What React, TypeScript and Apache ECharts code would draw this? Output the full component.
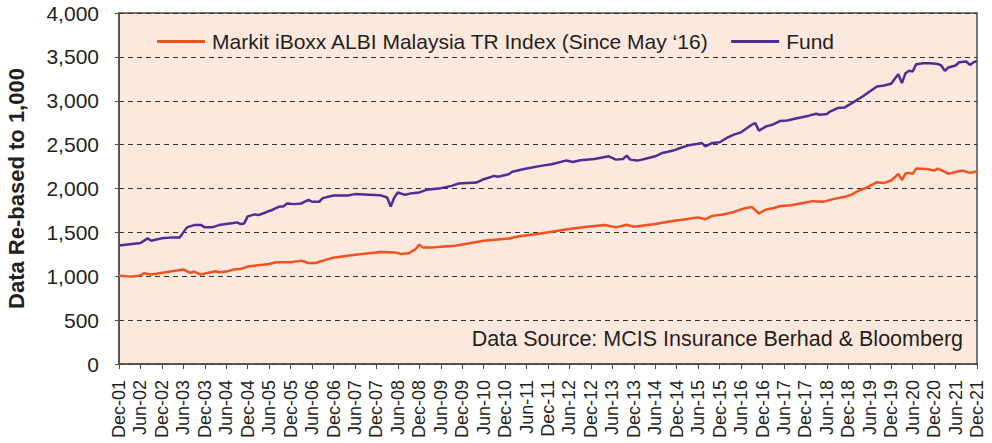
import React, { useEffect, useRef } from "react";
import * as echarts from "echarts";

// Month index counted from Dec-01 (0) to Dec-21 (240)
const fundMonths = [0, 3, 6, 8, 9, 12, 15, 17, 18, 19, 21, 23, 24, 26, 28, 30, 32, 33, 34, 35, 36, 38, 39, 41, 43, 45, 46, 47, 49, 51, 53, 54, 56, 57, 60, 64, 66, 70, 73, 75, 76, 77, 78, 80, 82, 84, 86, 90, 93, 95, 100, 102, 105, 106, 109, 110, 114, 118, 121, 125, 127, 129, 133, 137, 139, 141, 142, 143, 145, 147, 150, 152, 155, 157, 159, 162, 163, 164, 166, 168, 170, 172, 174, 177, 178, 179, 181, 183, 185, 187, 189, 191, 193, 195, 196, 198, 199, 201, 203, 205, 208, 210, 212, 214, 216, 217, 218, 219, 220, 221, 222, 223, 225, 227, 229, 230, 231, 232, 234, 235, 237, 238, 239, 240];
const fundValues = [1350, 1365, 1379, 1432, 1405, 1432, 1443, 1443, 1500, 1557, 1583, 1583, 1557, 1557, 1583, 1595, 1606, 1614, 1595, 1602, 1682, 1705, 1697, 1727, 1758, 1796, 1796, 1830, 1822, 1830, 1871, 1849, 1849, 1890, 1921, 1921, 1936, 1930, 1924, 1898, 1795, 1898, 1955, 1928, 1947, 1955, 1985, 2004, 2030, 2057, 2068, 2106, 2144, 2133, 2163, 2190, 2227, 2258, 2277, 2318, 2303, 2322, 2337, 2367, 2329, 2337, 2375, 2329, 2318, 2337, 2367, 2405, 2432, 2462, 2489, 2511, 2519, 2481, 2519, 2527, 2576, 2614, 2640, 2727, 2745, 2659, 2708, 2730, 2770, 2775, 2795, 2811, 2830, 2852, 2841, 2848, 2879, 2917, 2924, 2973, 3049, 3106, 3163, 3174, 3193, 3250, 3303, 3201, 3314, 3341, 3333, 3417, 3428, 3428, 3420, 3402, 3341, 3379, 3402, 3439, 3447, 3409, 3436, 3455];

const indexMonths = [0, 2, 4, 6, 7, 9, 13, 16, 18, 20, 21, 23, 25, 27, 28, 30, 32, 34, 36, 39, 42, 44, 48, 51, 53, 55, 58, 60, 65, 73, 77, 79, 81, 83, 84, 85, 88, 90, 94, 98, 102, 106, 109, 112, 117, 121, 126, 131, 136, 139, 142, 144, 150, 154, 159, 162, 164, 166, 169, 172, 175, 177, 179, 181, 183, 185, 188, 191, 194, 197, 200, 203, 205, 207, 209, 212, 214, 216, 218, 219, 220, 221, 222, 223, 226, 228, 229, 231, 232, 234, 236, 238, 240];
const indexValues = [1007, 1000, 996, 1010, 1034, 1019, 1045, 1064, 1076, 1038, 1053, 1019, 1041, 1057, 1045, 1053, 1076, 1083, 1110, 1125, 1140, 1159, 1159, 1178, 1151, 1151, 1189, 1212, 1240, 1276, 1272, 1253, 1261, 1310, 1360, 1329, 1329, 1337, 1348, 1375, 1405, 1420, 1430, 1455, 1481, 1507, 1538, 1564, 1583, 1557, 1587, 1564, 1595, 1625, 1652, 1671, 1650, 1688, 1704, 1733, 1775, 1790, 1715, 1761, 1775, 1800, 1810, 1833, 1856, 1848, 1882, 1905, 1932, 1977, 2008, 2072, 2064, 2091, 2167, 2095, 2170, 2178, 2167, 2227, 2223, 2204, 2227, 2189, 2167, 2189, 2204, 2178, 2197];

const xTickLabels = [
  "Dec-01", "Jun-02", "Dec-02", "Jun-03", "Dec-03", "Jun-04", "Dec-04", "Jun-05", "Dec-05", "Jun-06",
  "Dec-06", "Jun-07", "Dec-07", "Jun-08", "Dec-08", "Jun-09", "Dec-09", "Jun-10", "Dec-10", "Jun-11",
  "Dec-11", "Jun-12", "Dec-12", "Jun-13", "Dec-13", "Jun-14", "Dec-14", "Jun-15", "Dec-15", "Jun-16",
  "Dec-16", "Jun-17", "Dec-17", "Jun-18", "Dec-18", "Jun-19", "Dec-19", "Jun-20", "Dec-20", "Jun-21",
  "Dec-21",
];

const indexName = "Markit iBoxx ALBI Malaysia TR Index (Since May \u201816)";
const fundName = "Fund";
const sourceText = "Data Source: MCIS Insurance Berhad & Bloomberg";
const yAxisTitle = "Data Re-based to 1,000";

const FONT = "'Liberation Sans', Arial, Helvetica, sans-serif";

export default function App() {
  const ref = useRef<HTMLDivElement>(null);

  useEffect(() => {
    if (!ref.current) return;
    const chart = echarts.init(ref.current, null, { renderer: "svg" });
    const pair = (xs: number[], ys: number[]) => xs.map((x, i) => [x, ys[i]]);

    chart.setOption({
      animation: false,
      backgroundColor: "#ffffff",
      textStyle: { fontFamily: FONT },
      grid: {
        left: 119,
        top: 13,
        right: 15,
        bottom: 79,
        outerBoundsMode: "none",
        containLabel: false,
        show: true,
        backgroundColor: "#fde8de",
        borderColor: "#4d4d4d",
        borderWidth: 1.5,
      },
      legend: {
        left: 152,
        top: 26,
        itemWidth: 48,
        itemHeight: 3,
        itemGap: 22,
        icon: "rect",
        textStyle: { fontSize: 21, color: "#231f20", fontFamily: FONT, padding: [0, 0, 0, 2] },
        data: [
          { name: indexName, itemStyle: { color: "#f4511e" } },
          { name: fundName, itemStyle: { color: "#4f2d94" } },
        ],
      },
      graphic: [
        {
          type: "text",
          right: 29,
          top: 328,
          style: { text: sourceText, fontSize: 21.5, fill: "#231f20", fontFamily: FONT },
        },
      ],
      xAxis: {
        type: "value",
        min: 0,
        max: 240,
        interval: 6,
        axisLine: { show: true, lineStyle: { color: "#4d4d4d", width: 1.5 } },
        axisTick: { show: true, length: 5, lineStyle: { color: "#4d4d4d" } },
        splitLine: { show: false },
        axisLabel: {
          rotate: 90,
          margin: 16,
          fontSize: 18,
          color: "#231f20",
          fontFamily: FONT,
          formatter: (v: number) => xTickLabels[Math.round(v / 6)] ?? "",
        },
      },
      yAxis: {
        type: "value",
        min: 0,
        max: 4000,
        interval: 500,
        name: yAxisTitle,
        nameLocation: "middle",
        nameRotate: 90,
        nameGap: 92,
        nameTextStyle: { fontSize: 22, fontWeight: "bold", color: "#231f20", fontFamily: FONT },
        axisLine: { show: true, lineStyle: { color: "#4d4d4d", width: 1.5 } },
        axisTick: { show: true, length: 4, lineStyle: { color: "#4d4d4d" } },
        splitLine: { show: true, lineStyle: { color: "#333333", type: [5, 4], width: 1.2 } },
        axisLabel: {
          fontSize: 21,
          color: "#231f20",
          margin: 20,
          fontFamily: FONT,
          formatter: (v: number) => v.toLocaleString("en-US"),
        },
      },
      series: [
        {
          name: indexName,
          type: "line",
          data: pair(indexMonths, indexValues),
          showSymbol: false,
          symbol: "none",
          lineStyle: { color: "#f4511e", width: 2.5 },
          itemStyle: { color: "#f4511e" },
          z: 3,
        },
        {
          name: fundName,
          type: "line",
          data: pair(fundMonths, fundValues),
          showSymbol: false,
          symbol: "none",
          lineStyle: { color: "#4f2d94", width: 2.5 },
          itemStyle: { color: "#4f2d94" },
          z: 4,
        },
      ],
    });
    return () => chart.dispose();
  }, []);

  return (
    <div
      ref={ref}
      style={{ position: "fixed", left: 0, top: 0, width: 992, height: 443, background: "#fff" }}
    />
  );
}
